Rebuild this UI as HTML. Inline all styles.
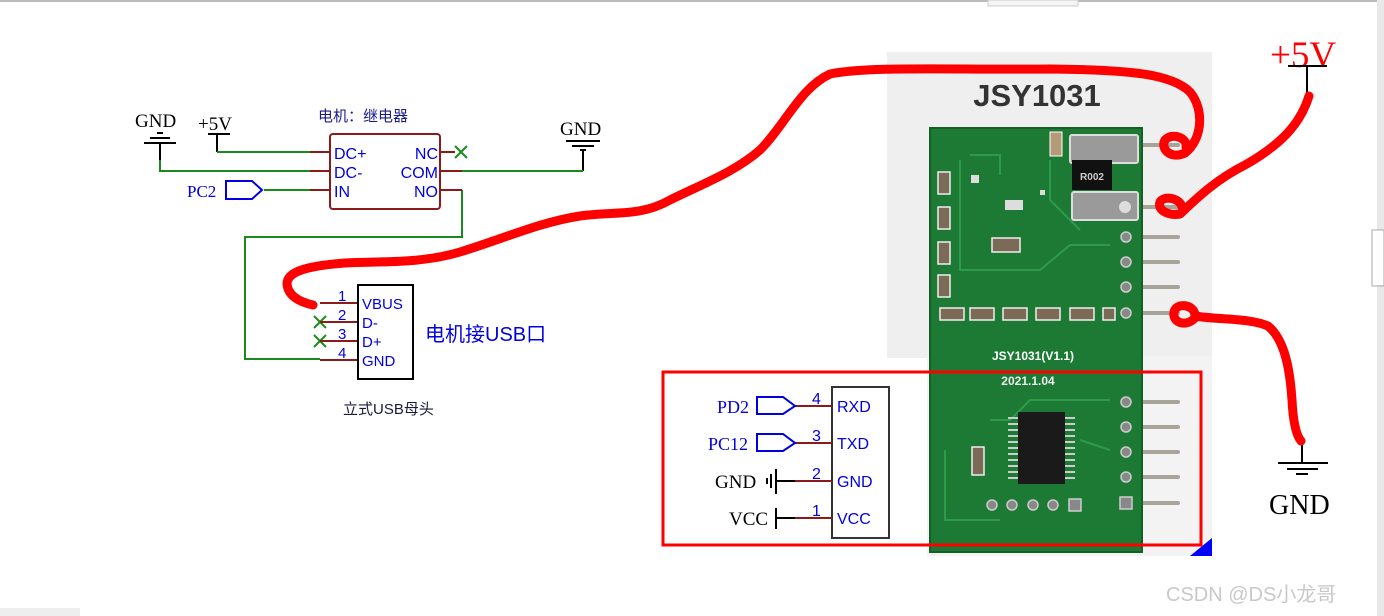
<!DOCTYPE html>
<html><head><meta charset="utf-8"><style>
html,body{margin:0;padding:0;background:#fff;}
svg{display:block;}
text{font-family:"Liberation Sans","Noto Sans CJK SC",sans-serif;}
.serif{font-family:"Liberation Serif","Noto Serif CJK SC",serif;}
</style></head><body>
<svg width="1384" height="616" viewBox="0 0 1384 616" xmlns="http://www.w3.org/2000/svg">
<rect width="1384" height="616" fill="#fff"/>
<line x1="0" y1="1" x2="1384" y2="1" stroke="#bbb" stroke-width="2"/>
<rect x="988" y="0" width="90" height="6" fill="#f4f4f4" stroke="#ccc"/>
<rect x="1377" y="0" width="7" height="616" fill="#e8e8e8"/>
<rect x="1370" y="230" width="14" height="55" fill="#fff"/>
<rect x="1372" y="230" width="12" height="56" fill="none" stroke="#aaa"/>
<rect x="0" y="608" width="80" height="8" fill="#eee"/>

<!-- photo background -->
<rect x="887" y="52" width="325" height="306" fill="#efefef"/>
<rect x="927" y="356" width="285" height="200" fill="#f3f3f3"/>
<polygon points="1212,538 1212,556 1190,556" fill="#0000ff"/>
<text x="1037" y="106" font-size="31" font-weight="bold" fill="#333" text-anchor="middle">JSY1031</text>
<!-- pins -->
<g stroke="#a8a49a" stroke-width="4" stroke-linecap="round">
<line x1="1140" y1="145" x2="1178" y2="145"/><line x1="1140" y1="207" x2="1178" y2="207"/>
<line x1="1140" y1="237" x2="1178" y2="237"/><line x1="1140" y1="262" x2="1178" y2="262"/>
<line x1="1140" y1="287" x2="1178" y2="287"/><line x1="1140" y1="313" x2="1178" y2="313"/>
<line x1="1140" y1="402" x2="1178" y2="402"/><line x1="1140" y1="427" x2="1178" y2="427"/>
<line x1="1140" y1="452" x2="1178" y2="452"/><line x1="1140" y1="477" x2="1178" y2="477"/>
<line x1="1140" y1="503" x2="1178" y2="503"/>
</g>
<!-- board -->
<rect x="930" y="128" width="212" height="424" fill="#1c7a34"/>
<rect x="930" y="128" width="212" height="424" fill="none" stroke="#136026" stroke-width="2"/>
<g fill="none" stroke="#2e9a4a" stroke-width="2">
<path d="M960 160 V270 H1040 L1070 245 H1110"/>
<path d="M970 155 H1000 V175"/><path d="M1050 160 V200 L1080 230"/>
<path d="M990 420 H1010 L1030 400 H1110"/><path d="M945 450 V520 H1000"/>
<path d="M1080 440 L1110 450"/>
</g>
<!-- big shunt -->
<rect x="1070" y="135" width="68" height="28" fill="#9a9a9a" stroke="#ddd" stroke-width="2" rx="2"/>
<rect x="1072" y="160" width="40" height="30" fill="#111"/>
<text x="1092" y="180" font-size="10" fill="#ccc" text-anchor="middle" font-weight="bold">R002</text>
<rect x="1072" y="192" width="66" height="28" fill="#9a9a9a" stroke="#ddd" stroke-width="2" rx="2"/>
<circle cx="1125" cy="207" r="6" fill="#ddd"/>
<rect x="1050" y="132" width="12" height="24" fill="#b59a7a" stroke="#fff"/>
<!-- small components -->
<g fill="#7b6a55" stroke="#eee" stroke-width="1.5">
<rect x="938" y="172" width="12" height="22"/><rect x="938" y="207" width="12" height="22"/>
<rect x="938" y="242" width="12" height="22"/><rect x="938" y="275" width="12" height="22"/>
<rect x="940" y="308" width="24" height="12"/><rect x="970" y="308" width="24" height="12"/>
<rect x="1003" y="308" width="24" height="12"/><rect x="1036" y="308" width="24" height="12"/>
<rect x="1070" y="308" width="24" height="12"/><rect x="1103" y="308" width="12" height="12"/>
<rect x="992" y="238" width="28" height="14"/>
<rect x="972" y="447" width="12" height="28"/>
</g>
<g fill="#ddd"><rect x="1005" y="200" width="18" height="10"/><rect x="971" y="175" width="8" height="8"/><rect x="1040" y="190" width="5" height="5"/></g>
<g fill="#888" stroke="#ccc" stroke-width="1.5">
<circle cx="1126" cy="237" r="5"/><circle cx="1126" cy="262" r="5"/><circle cx="1126" cy="287" r="5"/><circle cx="1126" cy="313" r="5"/>
<circle cx="1126" cy="402" r="5"/><circle cx="1126" cy="427" r="5"/><circle cx="1126" cy="452" r="5"/><circle cx="1126" cy="477" r="5"/><rect x="1120" y="497" width="12" height="12"/>
<circle cx="992" cy="505" r="5"/><circle cx="1012" cy="505" r="5"/><circle cx="1033" cy="505" r="5"/><circle cx="1053" cy="505" r="5"/><rect x="1069" y="499" width="12" height="12"/>
</g>
<text x="1033" y="360" font-size="12" fill="#fff" text-anchor="middle" font-weight="bold">JSY1031(V1.1)</text>
<text x="1028" y="385" font-size="12" fill="#eee" text-anchor="middle" font-weight="bold">2021.1.04</text>
<rect x="1018" y="412" width="47" height="72" fill="#1a1a1a"/>
<g stroke="#ccc" stroke-width="2">
<path d="M1008 418h10M1008 424h10M1008 430h10M1008 436h10M1008 442h10M1008 448h10M1008 454h10M1008 460h10M1008 466h10M1008 472h10M1008 478h10"/>
<path d="M1065 418h10M1065 424h10M1065 430h10M1065 436h10M1065 442h10M1065 448h10M1065 454h10M1065 460h10M1065 466h10M1065 472h10M1065 478h10"/>
</g>

<!-- left schematic -->
<text class="serif" x="135" y="127" font-size="19" fill="#000">GND</text>
<g stroke="#000" stroke-width="2" fill="none">
<line x1="157" y1="133" x2="163" y2="133"/><line x1="150" y1="138" x2="170" y2="138"/><line x1="144" y1="143" x2="176" y2="143"/>
<line x1="160" y1="143" x2="160" y2="160"/>
<line x1="208" y1="134" x2="230" y2="134"/><line x1="217" y1="134" x2="217" y2="152"/>
<line x1="566" y1="141" x2="600" y2="141" /><line x1="572" y1="146" x2="594" y2="146"/><line x1="580" y1="150" x2="586" y2="150"/>
<line x1="583" y1="151" x2="583" y2="171"/>
</g>
<text class="serif" x="198" y="130" font-size="19" fill="#000">+5V</text>
<text class="serif" x="560" y="135" font-size="19" fill="#000">GND</text>
<g stroke="#1a8a1a" stroke-width="2" fill="none">
<polyline points="160,160 160,171 310,171"/>
<polyline points="217,152 310,152"/>
<polyline points="264,190 310,190"/>
<polyline points="462,171 583,171"/>
<polyline points="462,190 462,237 245,237 245,359 320,359"/>
<path d="M455 146 l12 12 M467 146 l-12 12"/>
<path d="M314 316 l12 12 M326 316 l-12 12 M314 335 l12 12 M326 335 l-12 12"/>
</g>
<g stroke="#8b1a1a" stroke-width="2">
<line x1="310" y1="152" x2="330" y2="152"/><line x1="310" y1="171" x2="330" y2="171"/><line x1="310" y1="190" x2="330" y2="190"/>
<line x1="440" y1="152" x2="455" y2="152"/><line x1="440" y1="171" x2="462" y2="171"/><line x1="440" y1="190" x2="462" y2="190"/>
<line x1="320" y1="303" x2="358" y2="303"/><line x1="320" y1="322" x2="358" y2="322"/><line x1="320" y1="341" x2="358" y2="341"/><line x1="320" y1="360" x2="358" y2="360"/>
</g>
<rect x="330" y="134" width="110" height="75" rx="3" fill="#fff" stroke="#8b1a1a" stroke-width="2"/>
<text x="318" y="121" font-size="15" fill="#1a1a8c">电机：继电器</text>
<g font-size="16" fill="#0000e0">
<text x="334" y="159">DC+</text><text x="334" y="178">DC-</text><text x="334" y="197">IN</text>
<text x="438" y="159" text-anchor="end">NC</text><text x="438" y="178" text-anchor="end">COM</text><text x="438" y="197" text-anchor="end">NO</text>
</g>
<text class="serif" x="187" y="197" font-size="17" fill="#0000e0">PC2</text>
<polygon points="226,181 252,181 262,190 252,199 226,199" fill="#fff" stroke="#0000e0" stroke-width="2"/>
<rect x="358" y="285" width="55" height="94" fill="#fff" stroke="#000" stroke-width="2"/>
<g font-size="15" fill="#0000e0">
<text x="338" y="301">1</text><text x="338" y="320">2</text><text x="338" y="339">3</text><text x="338" y="358">4</text>
<text x="362" y="309">VBUS</text><text x="362" y="328">D-</text><text x="362" y="347">D+</text><text x="362" y="366">GND</text>
</g>
<text x="425" y="341" font-size="20" fill="#0000e0">电机接USB口</text>
<text x="343" y="414" font-size="15" fill="#1a1a3c">立式USB母头</text>

<!-- bottom schematic -->
<rect x="663" y="372" width="538" height="173" fill="none" stroke="#ff0000" stroke-width="3"/>
<rect x="832" y="387" width="57" height="151" fill="#fff" stroke="#333" stroke-width="2"/>
<g stroke="#8b1a1a" stroke-width="2">
<line x1="795" y1="406" x2="832" y2="406"/><line x1="795" y1="443" x2="832" y2="443"/>
<line x1="795" y1="481" x2="832" y2="481"/><line x1="795" y1="518" x2="832" y2="518"/>
</g>
<g stroke="#000" stroke-width="2">
<line x1="776" y1="481" x2="795" y2="481"/><line x1="776" y1="469" x2="776" y2="494"/>
<line x1="771" y1="474" x2="771" y2="488"/><line x1="767" y1="478" x2="767" y2="484"/>
<line x1="776" y1="518" x2="795" y2="518"/><line x1="776" y1="508" x2="776" y2="529"/>
</g>
<g font-size="16" fill="#0000e0">
<text x="812" y="404">4</text><text x="812" y="441">3</text><text x="812" y="479">2</text><text x="812" y="516">1</text>
<text x="837" y="412">RXD</text><text x="837" y="449">TXD</text><text x="837" y="487">GND</text><text x="837" y="524">VCC</text>
</g>
<text class="serif" x="717" y="413" font-size="18" fill="#0000e0">PD2</text>
<text class="serif" x="708" y="450" font-size="18" fill="#0000e0">PC12</text>
<polygon points="757,397 783,397 795,406 783,414 757,414" fill="#fff" stroke="#0000e0" stroke-width="2"/>
<polygon points="757,434 783,434 795,443 783,451 757,451" fill="#fff" stroke="#0000e0" stroke-width="2"/>
<text class="serif" x="715" y="488" font-size="19" fill="#000">GND</text>
<text class="serif" x="729" y="525" font-size="19" fill="#000">VCC</text>

<!-- right side -->
<text class="serif" x="1270" y="67" font-size="37" fill="#ff0000">+5V</text>
<g stroke="#000" stroke-width="2">
<line x1="1288" y1="66" x2="1327" y2="66"/><line x1="1307" y1="66" x2="1307" y2="95"/>
<line x1="1302" y1="440" x2="1302" y2="462"/>
<line x1="1278" y1="463" x2="1328" y2="463"/><line x1="1287" y1="469" x2="1318" y2="469"/><line x1="1296" y1="474" x2="1308" y2="474"/>
</g>
<text class="serif" x="1269" y="514" font-size="28" fill="#000">GND</text>

<!-- red hand-drawn wires -->
<g fill="none" stroke="#ff0000" stroke-width="9" stroke-linecap="round" stroke-linejoin="round">
<path d="M313 305 C300 302 288 296 287 284 C287 272 305 266 345 263 C380 261 420 264 460 252 C500 240 540 222 580 216 C615 211 640 217 670 200 C700 185 735 172 760 150 C785 125 800 88 830 74 C870 66 950 70 1050 69 C1120 70 1170 72 1190 92 C1205 110 1202 140 1185 153 C1170 160 1160 148 1165 140 C1172 132 1188 138 1186 147"/>
<path d="M1309 96 C1300 125 1280 145 1245 165 C1215 180 1195 200 1180 214 C1168 216 1157 210 1160 202 C1164 195 1180 198 1182 207"/>
<path d="M1195 318 C1185 328 1172 322 1174 312 C1176 302 1195 304 1195 316 C1220 320 1250 318 1268 326 C1285 340 1290 370 1292 400 C1293 420 1296 435 1301 441"/>
</g>

<text x="1166" y="601" font-size="20" fill="#c8c8c8">CSDN @DS小龙哥</text>
</svg>
</body></html>
